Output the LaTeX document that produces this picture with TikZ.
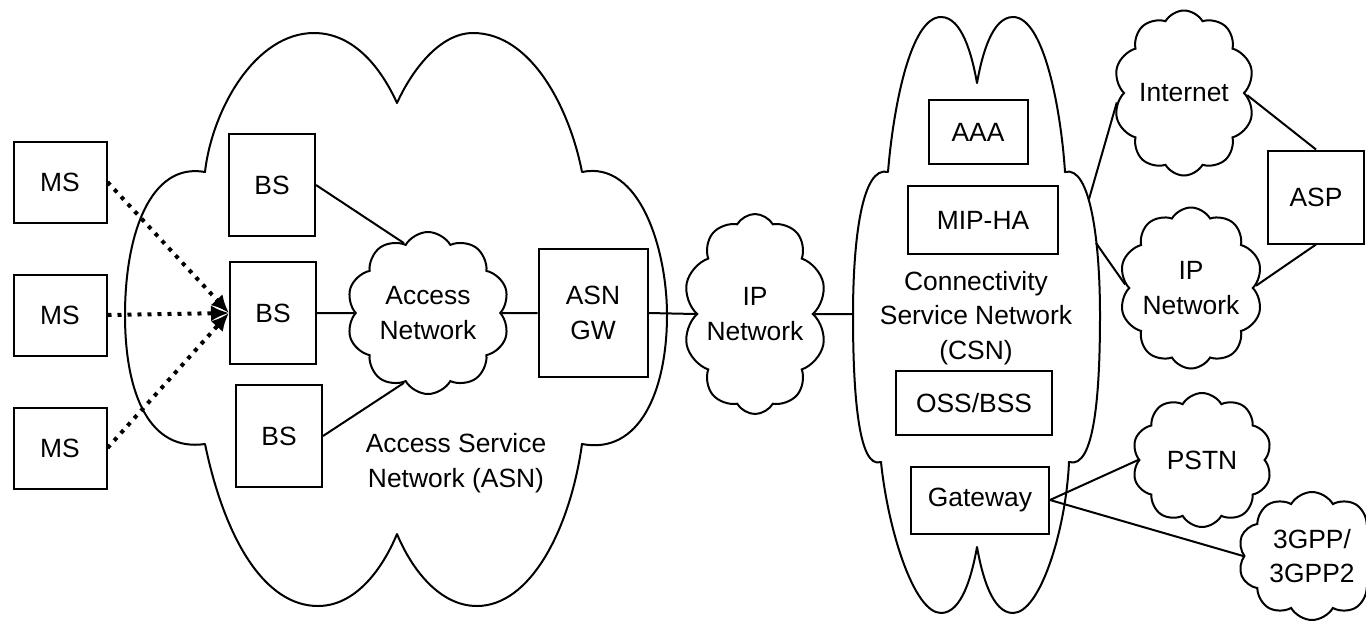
\documentclass[tikz,border=0pt]{standalone}
\usepackage{fontspec}
\setmainfont{Liberation Sans}
\usetikzlibrary{shapes.symbols, arrows.meta, positioning}
\tikzstyle{station} = [rectangle, draw=black, line width=1pt, minimum width=46.5pt, minimum height=40.5pt]
\tikzstyle{base} = [rectangle, draw=black, line width=1pt, minimum width=43pt, minimum height=51pt]
\tikzstyle{server} = [rectangle, draw=black, line width=1pt, align=center]
\tikzstyle{net} = [cloud, cloud puffs=10, cloud puff arc=120, cloud ignores aspect, draw=black, line width=1pt, align=center, inner sep=0pt]
\tikzstyle{outline} = [line width=1pt, line join=round]
\tikzstyle{link} = [line width=1pt]
\tikzstyle{radio} = [line width=2pt, dash pattern=on 2pt off 3pt, -{Latex[length=9pt,width=8pt]}]

\begin{document}
\begin{tikzpicture}[x=0.5pt, y=-0.5pt, node distance=25pt, font=\fontsize{13.2}{17.2}\selectfont]
	\useasboundingbox (0,0) rectangle (1366,623);

	% Access service network (outline)
	\draw [outline] (205,172) .. controls (212,110) and (255,33) .. (314,33)
		.. controls (355,33) and (382,70) .. (397,103)
		.. controls (412,70) and (440,33) .. (473,33)
		.. controls (532,33) and (570,110) .. (582,172)
		.. controls (640,160) and (667,250) .. (667,315)
		.. controls (667,390) and (640,455) .. (582,444)
		.. controls (570,530) and (530,606) .. (477,606)
		.. controls (440,606) and (412,570) .. (397,534)
		.. controls (382,570) and (355,606) .. (318,606)
		.. controls (265,606) and (225,540) .. (205,444)
		.. controls (150,452) and (125,395) .. (125,315)
		.. controls (125,235) and (150,162) .. (205,172) -- cycle;
	\node (asn) [align=center] at (456,463) {Access Service\\Network (ASN)};

	% Mobile stations
	\node (ms1) [station] at (60,182) {MS};
	\node (ms2) [station, below=of ms1] {MS};
	\node (ms3) [station, below=of ms2] {MS};

	% Base stations
	\node (bs1) [base] at (272,185) {BS};
	\node (bs2) [base] at (273,313) {BS};
	\node (bs3) [base] at (279,436) {BS};
	\node (access) [net, minimum width=81.5pt, minimum height=81pt] at (428,313) {Access\\Network};
	\node (asngw) [server, minimum width=54.5pt, minimum height=64pt] at (593,313) {ASN\\GW};

	% IP network
	\node (ipnet) [net, minimum width=70pt, minimum height=100pt] at (755,314) {IP\\Network};

	% Connectivity service network (outline)
	\draw [outline] (888,172) .. controls (893,110) and (910,17) .. (941,17)
		.. controls (962,17) and (972,55) .. (977,83)
		.. controls (982,55) and (992,17) .. (1013,17)
		.. controls (1044,17) and (1061,110) .. (1065,172)
		.. controls (1090,165) and (1100,240) .. (1100,315)
		.. controls (1100,390) and (1095,470) .. (1069,462)
		.. controls (1066,530) and (1040,613) .. (1013,613)
		.. controls (992,613) and (982,575) .. (977,547)
		.. controls (972,575) and (962,613) .. (941,613)
		.. controls (914,613) and (888,530) .. (881,462)
		.. controls (858,470) and (853,390) .. (853,315)
		.. controls (853,240) and (862,165) .. (888,172) -- cycle;
	\coordinate (csnw) at (853,314);
	\coordinate (csnne) at (1089,199);
	\coordinate (csne) at (1096,243);
	\node (csn) [align=center] at (976,318) {Connectivity\\Service Network\\(CSN)};
	\node (aaa) [server, minimum width=49.5pt, minimum height=32pt] at (978,132) {AAA};
	\node (mipha) [server, minimum width=75pt, minimum height=34pt] at (983,220) {MIP-HA};
	\node (oss) [server, minimum width=78pt, minimum height=32pt] at (974,403) {OSS/BSS};
	\node (gateway) [server, minimum width=69pt, minimum height=33.5pt] at (980,500) {Gateway};

	% Outside networks
	\node (internet) [net, minimum width=70.5pt, minimum height=82.5pt] at (1184,93) {Internet};
	\node (ipnet2) [net, minimum width=70.5pt, minimum height=80.5pt] at (1191,288) {IP\\Network};
	\node (asp) [server, minimum width=48pt, minimum height=46.5pt] at (1316,197) {ASP};
	\node (pstn) [net, minimum width=70pt, minimum height=67pt] at (1202,460) {PSTN};
	\node (gpp) [net, minimum width=74pt, minimum height=64pt] at (1312,556) {3GPP/\\3GPP2};

	% Radio links
	\draw [radio] (ms1.east) -- (bs2.west);
	\draw [radio] (ms2.east) -- (bs2.west);
	\draw [radio] (ms3.east) -- (bs2.west);

	% Links in the ASN
	\draw [link] (bs1.east) -- (access.109);
	\draw [link] (bs2.east) -- (access.west);
	\draw [link] (bs3.east) -- (access.251);
	\draw [link] (access.east) -- (asngw.west);
	\draw [link] (asngw.east) -- (ipnet.west);
	\draw [link] (ipnet.east) -- (csnw);

	% Links out of the CSN
	\draw [link] (csnne) -- (internet.188);
	\draw [link] (csne) -- (ipnet2.177);
	\draw [link] (internet.358) -- (asp.north);
	\draw [link] (ipnet2.2) -- (asp.south);
	\draw [link] (gateway.east) -- (pstn.west);
	\draw [link] (gateway.east) -- (gpp.west);

\end{tikzpicture}
\end{document}
